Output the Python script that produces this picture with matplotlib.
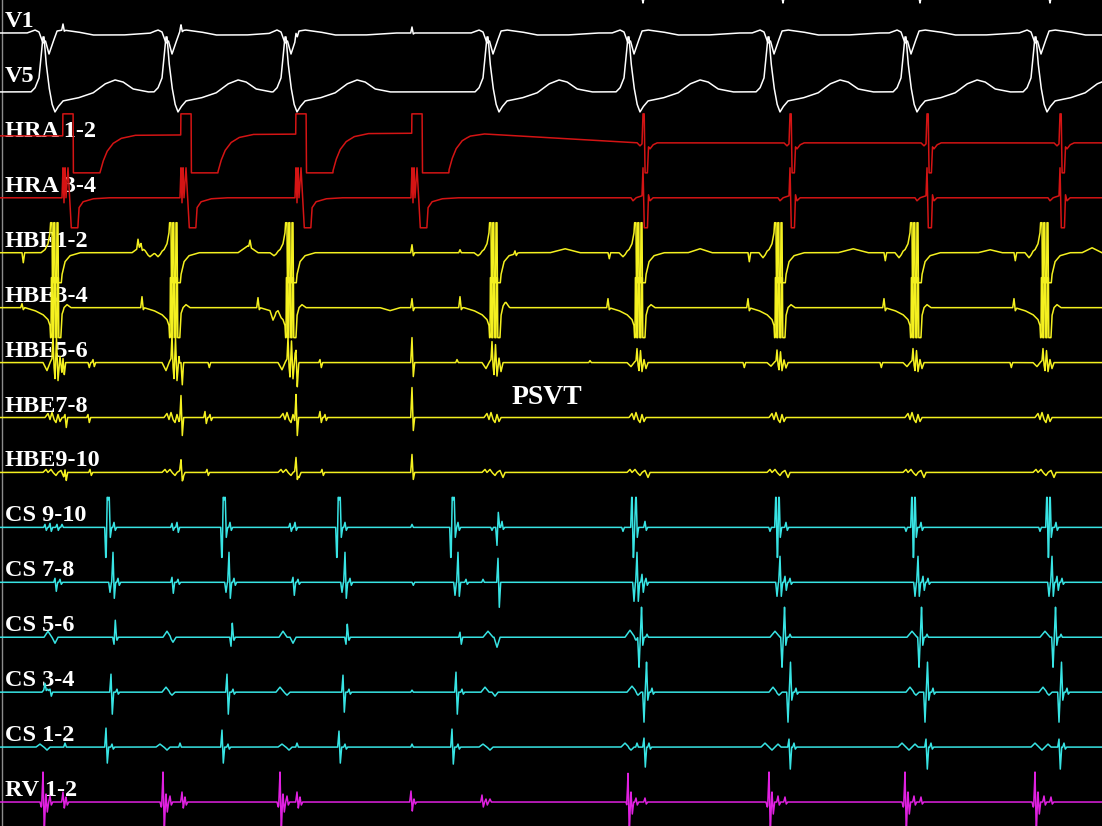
import numpy as np
import matplotlib
matplotlib.use("Agg")
import matplotlib.pyplot as plt

channels = ["V1", "V5", "HRA 1-2", "HRA 3-4", "HBE1-2", "HBE3-4", "HBE5-6",
            "HBE7-8", "HBE9-10", "CS 9-10", "CS 7-8", "CS 5-6", "CS 3-4",
            "CS 1-2", "RV 1-2"]

# timing of events (ms-ish, one unit per screen pixel)
stim_times = [63, 181, 296, 412]
qrs_times = [43, 166, 285, 487, 628, 768, 905, 1035]
his_v_times = [55, 174, 290, 494, 639, 779, 915, 1045]
hra_a_times = [643, 790, 927, 1060]
top_marks = [643, 783, 920, 1050]

# HRA 1-2 baseline drift
hra12_level_t = [0, 60, 465, 640, 1102]
hra12_level_v = [7, 7, 10, 0, 0]

# (time, first deflection, second deflection)
hbe12_spikes = [(22, 0, -10), (138, 9, 0), (141, 4, -2), (250, 7, 0), (412, 8, -3),
                (460, 3, 0), (515, 3, -2), (608, 0, -6), (748, 0, -9), (884, 0, -8),
                (1014, 0, -8)]
hbe12_humps = [(140, 6, 8), (150, -4, 5), (248, 7, 10), (158, -4, 4), (274, -3, 4),
               (478, -3, 4), (565, 4, 15), (623, -4, 4), (700, 4, 12), (763, -5, 4),
               (853, 4, 15), (899, -5, 4), (990, 3, 12), (1029, -5, 4), (1092, 5, 10)]
hbe34_spikes = [(22, 4, -2), (142, 11, -2), (258, 10, -2), (412, 9, -3), (460, 11, -2),
                (608, 9, -2), (748, 9, -3), (884, 9, -3), (1014, 9, -3)]
hbe34_humps = [(60, 4, 3), (180, 3, 3), (273, -8, 3), (278, 4, 3), (390, -3, 10),
               (505, 3, 4)]
hbe56_spikes = [(63, 10, -12), (181, 12, -18), (296, 15, -15), (412, 25, -14),
                (88, 0, -5), (93, 3, -4), (208, 0, -5), (320, 3, -5), (457, 3, 0),
                (590, 2, 0), (743, 0, -5), (880, 0, -5), (1010, 0, -5)]
hbe56_v_scale = [2.0, 2.0, 1.8, 1.5, 1.0, 0.9, 1.0, 1.0]
hbe78_spikes = [(65, 3, -10), (181, 22, -18), (296, 25, -18), (412, 30, -13),
                (88, 3, -5), (205, 6, -6), (210, 3, -3), (320, 6, -5), (325, 3, -3)]
hbe910_spikes = [(65, 5, -8), (181, 13, -5), (296, 13, -6), (412, 18, -7),
                 (90, 3, -3), (207, 3, -3), (322, 3, -3)]

cs910_spikes = [(45, 3, -3), (50, 4, -4), (57, 3, -3), (62, 3, 0),
                (106, -40, 40), (109, 40, -10), (114, 5, -3),
                (172, 4, -3), (177, 5, -5),
                (222, -40, 40), (225, 40, -10), (230, 5, -3),
                (290, 4, -4), (295, 5, -3),
                (337, -40, 40), (340, 40, -10), (345, 5, -3),
                (412, 3, 0),
                (451, -40, 40), (454, 40, -10), (458, 5, -3),
                (492, -3, 0), (497, -18, 15), (502, 6, -2),
                (623, -4, 0), (632, 40, -40), (636, 40, -10), (645, 6, -3),
                (770, -4, 0), (776, 40, -40), (779, 40, -10), (786, 5, -3),
                (906, -4, 0), (912, 40, -40), (915, 40, -10), (921, 5, -3),
                (1040, -4, 0), (1047, 40, -40), (1050, 40, -10), (1056, 5, -3)]
cs78_spikes = [(55, 4, -9), (60, 3, -2),
               (110, -10, 0), (113, 30, -16), (118, 4, -3),
               (172, 5, -11), (178, 3, -2),
               (226, -10, 0), (229, 30, -16), (234, 4, -3),
               (293, 5, -13), (298, 3, -2),
               (342, -10, 0), (345, 30, -16), (350, 4, -3),
               (412, 0, -3),
               (455, -13, 0), (458, 30, -14), (466, 3, -2),
               (483, 3, 0), (498, 24, -25),
               (634, -19, 0), (637, 30, -19), (642, 8, -10), (646, 4, -3),
               (777, -14, 0), (780, 26, -14), (785, 6, -8), (790, 4, -2),
               (915, -14, 0), (918, 26, -14), (923, 6, -8), (928, 4, -2),
               (1049, -14, 0), (1052, 26, -14), (1057, 6, -8), (1062, 4, -2)]
cs56_spikes = [(114, -7, 17), (117, -3, 0),
               (231, -9, 14), (234, -3, 0),
               (346, -7, 13), (349, -3, 0),
               (460, 5, -7),
               (639, -32, 0), (641.5, 32, -8), (647, 3, 0),
               (782, -32, 0), (784.5, 32, -8), (790, 3, 0),
               (919, -32, 0), (921.5, 32, -8), (927, 3, 0),
               (1053, -32, 0), (1055.5, 32, -8), (1061, 3, 0)]
cs56_humps = [(48, 6, 4), (55, -6, 3), (167, 6, 4), (173, -5, 3), (283, 6, 4),
              (293, -6, 3), (488, 6, 5), (497, -10, 3), (630, 7, 5), (636, -3, 2),
              (775, 6, 5), (912, 6, 5), (1045, 6, 5)]
cs34_spikes = [(45, 5, -3), (50, 3, -4),
               (111, 18, -22), (117, 3, -2),
               (227, 18, -22), (233, 3, -2),
               (343, 17, -20), (349, 3, -2),
               (412, 2, 0),
               (456, 20, -22), (462, 3, -2),
               (644, -30, 0), (646.5, 32, -8), (652, 4, -2),
               (788, -30, 0), (790.5, 30, -8), (796, 4, -2),
               (925, -30, 0), (927.5, 30, -8), (933, 4, -2),
               (1059, -30, 0), (1061.5, 30, -8), (1067, 4, -2)]
cs34_humps = [(46, 5, 4), (166, 5, 4), (172, -3, 3), (280, 5, 4), (287, -3, 3),
              (485, 5, 4), (495, -4, 3), (632, 6, 5), (638, -3, 3), (773, 5, 4),
              (779, -3, 3), (910, 5, 4), (916, -3, 3), (1043, 5, 4), (1049, -3, 3)]
cs12_spikes = [(65, 4, 0),
               (106, 19, -16), (112, 3, -2),
               (180, 4, 0),
               (222, 17, -16), (228, 3, -2),
               (297, 4, 0),
               (339, 16, -16), (345, 3, -2),
               (412, 3, 0),
               (452, 18, -17), (458, 3, -2),
               (637, 4, 0), (644, 9, -20), (649, 4, -2),
               (789, 8, -22), (794, 4, -2),
               (926, 8, -22), (931, 4, -2),
               (1059, 8, -22), (1064, 4, -2)]
cs12_humps = [(40, 3, 4), (47, -3, 3), (160, 3, 4), (167, -3, 3), (282, 3, 4),
              (289, -3, 3), (483, 3, 4), (490, -3, 3), (625, 4, 4), (631, -3, 3),
              (765, 4, 4), (772, -3, 3), (778, 3, 3), (902, 4, 4), (909, -3, 3),
              (915, 3, 3), (1035, 4, 4), (1042, -3, 3), (1048, 3, 3)]
rv_spikes = [(40, 0, -5), (43, 31, -30), (46, 8, -10), (50, 6, -3), (63, 10, -6), (66, 5, -3),
             (160, 0, -5), (163, 31, -30), (166, 8, -10), (170, 6, -3), (182, 10, -6), (185, 5, -3),
             (277, 0, -5), (280, 31, -30), (283, 8, -10), (287, 6, -3), (297, 10, -6), (300, 5, -3),
             (411, 11, -9), (414, 3, -2),
             (482, 7, -5), (486, 3, -3), (490, 3, 0),
             (626, 0, -5), (628, 31, -32), (631, 10, -12), (636, 4, -3), (645, 4, -2),
             (766, 0, -5), (769, 31, -32), (772, 10, -12), (778, 6, -3), (785, 5, -2),
             (902, 0, -5), (905, 31, -32), (908, 10, -12), (914, 6, -3), (921, 5, -2),
             (1032, 0, -5), (1035, 31, -32), (1038, 10, -12), (1044, 6, -3), (1051, 5, -2)]

# waveform shapes (offset, deflection)
V1_QRS = [(-16, 0), (-8, 3), (-4, 1), (0, -10), (2.5, -8), (6, -21), (9, -12), (14, 2),
          (20, 3), (35, 1), (50, -2), (80, -2), (110, 0)]
V5_QRS = [(-12, 0), (-8, 4), (-4, 14), (-1, 45), (0, 55), (1, 55), (3, 30), (6, 5),
          (9, -12), (12, -20), (15, -15), (20, -9), (35, -6), (50, -1), (62, 8),
          (72, 12), (80, 10), (90, 3), (105, 0)]
HRA12_PACE = [(-0.3, 0), (0, 60), (10, 60), (10.4, -60), (36, -60), (37, -37), (40, -26),
              (44, -16), (50, -8), (58, -3), (72, 0)]
HRA12_A = [(-6, 0), (-3, -3), (-1, -1), (0, 30), (1.2, 30), (2.2, -40), (4, -40),
           (5.5, -4), (7, -6), (10, -2), (14, 0)]
HRA34_PACE = [(-1, 0), (0, 32), (1, -5), (2, 32), (3, 0), (5, 30), (7, -5), (9, -45),
              (14, -45), (16, -10), (20, -4), (30, -1), (45, 0)]
HRA34_A = [(-12, 0), (-10, -3), (-7, 0), (-1, 2), (0, 30), (1.5, -45), (4, -45),
           (5.5, 3), (7, -3), (10, 0)]
HBE12_V = [(-14, 0), (-10, 3), (-7, 9), (-5, 20), (-4, 40), (-3, 40), (-2.6, -40),
           (-1.6, -40), (-1.2, 40), (-0.2, 40), (0.2, -40), (1.6, -40), (2, 40),
           (3, 40), (3.4, -40), (5.5, -40), (7, -22), (10, -9), (15, -3), (25, 0)]
HBE34_V = [(-30, 0), (-20, -3), (-12, -7), (-7, -12), (-5, -18), (-4, -40), (-3.6, 40),
           (-2.6, 40), (-2.2, -40), (-1.2, -40), (-0.8, 40), (0.4, 40), (0.8, -40),
           (2, -40), (2.4, 40), (3.4, 40), (3.8, -40), (5.5, -40), (7, -8), (9, 0),
           (12, 3), (16, 0)]
HBE56_V = [(-12, 0), (-8, -4), (-5, 0), (-3, 2), (-2, 14), (-1, -2), (0, -8), (1.5, 12),
           (3, -9), (5, 3), (7, -6), (9, 0)]
HBE78_V = [(-10, 0), (-7, 4), (-5, -2), (-3, 5), (-1, -2), (1, -5), (3, 3), (5, -4), (7, 0)]
HBE910_V = [(-12, 0), (-9, 3), (-7, 0), (-4, 3), (-2, 0), (1, -3), (3, 0), (6, 2),
            (9, -5), (11, 0)]
TOP_MARK = [(-3, 0), (0, 15), (3, 0)]

t = np.arange(0, 1102, 0.1)


def shape(knots, t0, scale=1.0):
    dx = np.array([k[0] for k in knots], dtype=float)
    dy = np.array([k[1] for k in knots], dtype=float)
    return scale * np.interp(t - t0, dx, dy, left=0.0, right=0.0)


def repeat(knots, times, scales=None):
    s = np.zeros_like(t)
    for i, t0 in enumerate(times):
        s += shape(knots, t0, 1.0 if scales is None else scales[i])
    return s


def spikes(events, w=1.3):
    s = np.zeros_like(t)
    for t0, a1, a2 in events:
        s += shape([(-w, 0), (0, a1), (w, a2), (2 * w, 0)], t0)
    return s


def humps(events):
    s = np.zeros_like(t)
    for t0, a, w in events:
        s += shape([(-w, 0), (0, a), (w, 0)], t0)
    return s


sig = {}
sig["V1"] = repeat(V1_QRS, qrs_times) + spikes([(s, 6, -1) for s in stim_times])
sig["V5"] = repeat(V5_QRS, qrs_times)
sig["HRA 1-2"] = (np.interp(t, hra12_level_t, hra12_level_v) + repeat(HRA12_PACE, stim_times)
                  + repeat(HRA12_A, hra_a_times))
sig["HRA 3-4"] = repeat(HRA34_PACE, stim_times) + repeat(HRA34_A, hra_a_times)
sig["HBE1-2"] = repeat(HBE12_V, his_v_times) + spikes(hbe12_spikes) + humps(hbe12_humps)
sig["HBE3-4"] = repeat(HBE34_V, his_v_times) + spikes(hbe34_spikes) + humps(hbe34_humps)
sig["HBE5-6"] = repeat(HBE56_V, his_v_times, hbe56_v_scale) + spikes(hbe56_spikes)
sig["HBE7-8"] = repeat(HBE78_V, his_v_times) + spikes(hbe78_spikes)
sig["HBE9-10"] = repeat(HBE910_V, his_v_times) + spikes(hbe910_spikes)
sig["CS 9-10"] = spikes(cs910_spikes)
sig["CS 7-8"] = spikes(cs78_spikes)
sig["CS 5-6"] = spikes(cs56_spikes) + humps(cs56_humps)
sig["CS 3-4"] = spikes(cs34_spikes) + humps(cs34_humps)
sig["CS 1-2"] = spikes(cs12_spikes) + humps(cs12_humps)
sig["RV 1-2"] = spikes(rv_spikes)

colors = {"V1": "white", "V5": "white", "HRA 1-2": "#d41414", "HRA 3-4": "#d41414",
          "RV 1-2": "#e020e0"}
for name in channels:
    if name.startswith("HBE"):
        colors[name] = "#f4f020"
    elif name.startswith("CS"):
        colors[name] = "#38e4e4"

fig = plt.figure(figsize=(11.02, 8.26), dpi=100, facecolor="black")
ax = fig.add_axes([0, 0, 1, 1])
ax.set_facecolor("black")
ax.set_xlim(0, 1102)
ax.set_ylim(826, 0)
ax.axis("off")

ax.axvline(1.5, color="#8c8c8c", lw=1.0, zorder=1)
ax.plot(t, -12 + repeat(TOP_MARK, top_marks), color="white", lw=1.1, zorder=3)

for k, name in enumerate(channels):
    label_y = 27 + 54.93 * k
    y0 = label_y + (10 if name == "V5" else 6)
    s = sig[name]
    if name not in ("V1", "V5"):
        s = np.clip(s, -30, 29 if name == "HRA 1-2" else 30)
    ax.plot(t, y0 - s, color=colors[name], lw=1.1, zorder=3)
    ax.text(5, label_y, name, color="white", fontsize=17.5, fontweight="bold",
            family="Liberation Serif", va="baseline", ha="left", zorder=2)

ax.text(512, 404, "PSVT", color="white", fontsize=20, fontweight="bold",
        family="Liberation Serif", va="baseline", ha="left", zorder=4)

fig.savefig("out.png", dpi=100, facecolor="black")
